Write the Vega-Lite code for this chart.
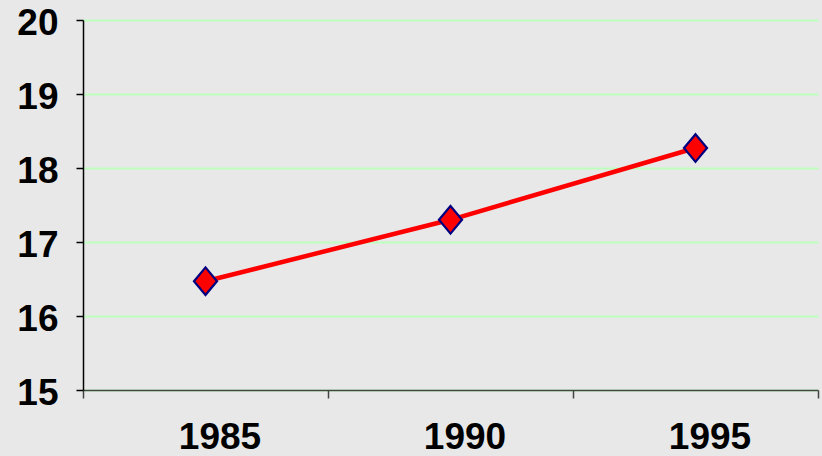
{
  "$schema": "https://vega.github.io/schema/vega-lite/v6.json",
  "width": 735,
  "height": 370,
  "autosize": "none",
  "padding": {"left": 83, "top": 20, "right": 4, "bottom": 66},
  "background": "#e8e8e8",
  "config": {"view": {"stroke": null}},
  "data": {"values": [
    {"year": "1985", "value": 16.47},
    {"year": "1990", "value": 17.3},
    {"year": "1995", "value": 18.27}
  ]},
  "encoding": {
    "x": {
      "field": "year", "type": "ordinal",
      "scale": {"paddingInner": 0, "paddingOuter": 0},
      "axis": {
        "title": null, "labelAngle": 0, "tickBand": "extent",
        "domainColor": "#444444", "domainWidth": 1.5,
        "tickColor": "#444444", "tickSize": 8, "tickWidth": 1.5,
        "labelFont": "Liberation Sans", "labelFontWeight": "bold", "labelFontSize": 37,
        "labelColor": "#000000", "labelPadding": 21, "labelOffset": 14,
        "grid": false
      }
    },
    "y": {
      "field": "value", "type": "quantitative",
      "scale": {"domain": [15, 20], "nice": false, "zero": false},
      "axis": {
        "title": null, "values": [15, 16, 17, 18, 19, 20],
        "grid": true, "gridColor": "#bdffbd", "gridWidth": 2,
        "domainColor": "#000000", "domainWidth": 1.5,
        "tickColor": "#000000", "tickSize": 7, "tickWidth": 1.5,
        "labelFont": "Liberation Sans", "labelFontWeight": "bold", "labelFontSize": 37,
        "labelColor": "#000000", "labelPadding": 18, "labelOffset": 3
      }
    }
  },
  "layer": [
    {"mark": {"type": "line", "color": "#ff0000", "strokeWidth": 4.5}},
    {"mark": {"type": "point", "shape": "M-1,0L0,-1.2L1,0L0,1.2Z", "filled": true, "fill": "#ff0000", "stroke": "#000080", "strokeWidth": 2.2, "size": 530, "opacity": 1}}
  ]
}
